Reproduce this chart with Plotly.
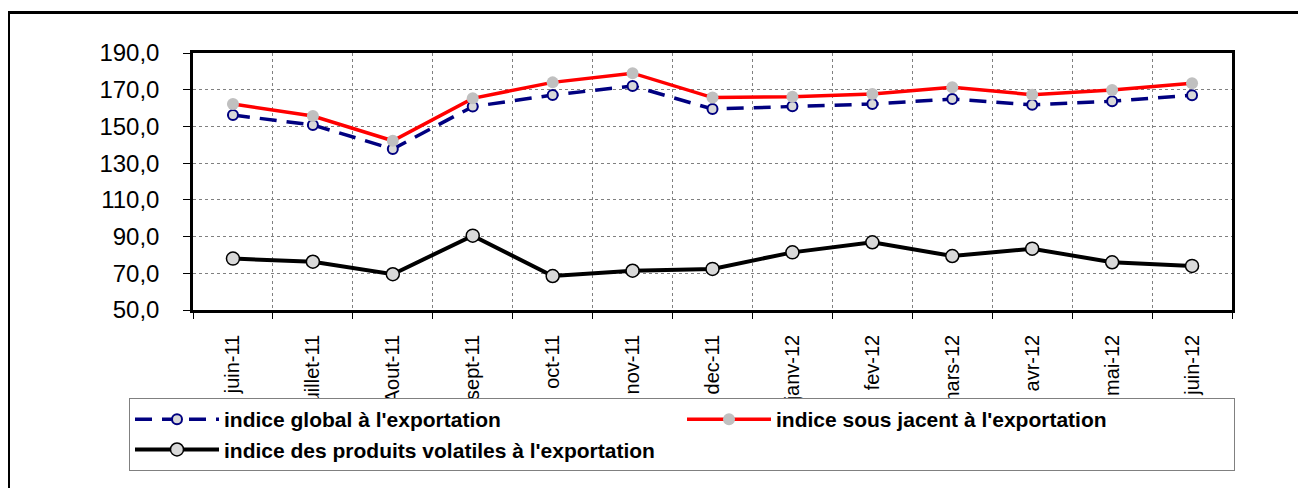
import plotly.graph_objects as go

months = ["juin-11", "juillet-11", "Aout-11", "sept-11", "oct-11", "nov-11", "dec-11",
          "janv-12", "fev-12", "mars-12", "avr-12", "mai-12", "juin-12"]
indice_global = [156.2, 150.8, 137.7, 160.8, 167.1, 172.0, 159.5, 161.0, 162.2, 164.9, 161.8, 163.7, 167.0]
indice_sous_jacent = [162.2, 155.7, 142.2, 165.3, 174.0, 179.0, 165.7, 166.2, 167.7, 171.3, 167.3, 169.8, 173.5]
indice_volatiles = [78.0, 76.3, 69.5, 90.5, 68.5, 71.4, 72.4, 81.4, 86.9, 79.4, 83.4, 76.0, 74.0]

names = ["indice global à l'exportation",
         "indice sous jacent à l'exportation",
         "indice des produits volatiles à l'exportation"]

FONT = "Arial, 'Liberation Sans', sans-serif"
OFF = 8  # page body margin offset
W, H = 1306 - OFF, 488 - OFF
L, R, T, B = 193 - OFF, 1232 - OFF, 53 - OFF, 310 - OFF

fig = go.Figure()
fig.add_trace(go.Scatter(
    x=months, y=indice_global, name=names[0], mode="lines+markers",
    line=dict(color="#000080", width=3.5, dash="17px,10px"),
    marker=dict(symbol="circle", size=10, color="#D9D9D9", line=dict(color="#000080", width=2)),
))
fig.add_trace(go.Scatter(
    x=months, y=indice_sous_jacent, name=names[1], mode="lines+markers",
    line=dict(color="#FF0000", width=3.5),
    marker=dict(symbol="circle", size=12, color="#C0C0C0", line=dict(width=0)),
))
fig.add_trace(go.Scatter(
    x=months, y=indice_volatiles, name=names[2], mode="lines+markers",
    line=dict(color="#000000", width=4),
    marker=dict(symbol="circle", size=13, color="#D9D9D9", line=dict(color="#000000", width=1.5)),
))

pw, ph = R - L, B - T
def px(x):
    return (x - OFF - L) / pw
def py(y):
    return (B - (y - OFF)) / ph

# outer frame
fig.add_shape(type="rect", xref="paper", yref="paper",
              x0=px(8.5), x1=px(1330), y0=py(530), y1=py(12.5),
              line=dict(color="black", width=3), fillcolor="rgba(0,0,0,0)", layer="below")

fig.update_layout(
    width=W, height=H,
    margin=dict(l=L, r=W - R, t=T, b=H - B, pad=0, autoexpand=False),
    paper_bgcolor="white", plot_bgcolor="white",
    separators=", ",
    font=dict(family=FONT, color="black"),
    showlegend=True,
    legend=dict(
        orientation="h", x=px(129), y=py(398), xanchor="left", yanchor="top",
        bgcolor="white", bordercolor="#808080", borderwidth=1,
        font=dict(family=FONT, size=21, color="black", weight="bold"),
        entrywidth=453, entrywidthmode="pixels",
        traceorder="normal", itemwidth=84,
    ),
    xaxis=dict(
        type="category", tickson="boundaries", tickangle=-90,
        tickfont=dict(size=20, family=FONT), ticks="outside", ticklen=6, tickcolor="black",
        ticklabelstandoff=14,
        showgrid=True, gridcolor="#808080", griddash="dot", gridwidth=1,
        showline=True, linecolor="black", linewidth=2.5, mirror=True,
        range=[-0.5, 12.5], fixedrange=True, automargin=False,
    ),
    yaxis=dict(
        range=[50, 190], dtick=20, tick0=50, tickformat=".1f",
        tickfont=dict(size=24, family=FONT), ticks="outside", ticklen=7, tickcolor="black",
        ticklabelstandoff=19,
        showgrid=True, gridcolor="#808080", griddash="dot", gridwidth=1,
        showline=True, linecolor="black", linewidth=2.5, mirror=True,
        zeroline=False, automargin=False,
    ),
)

fig.write_html("out.html")
